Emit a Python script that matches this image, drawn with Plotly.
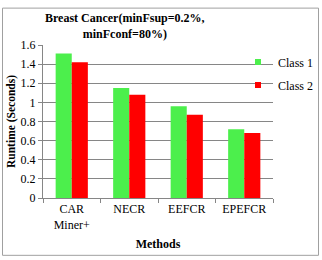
import plotly.graph_objects as go

methods = ["CAR<br>Miner+", "NECR", "EEFCR", "EPEFCR"]
class1 = [1.51, 1.15, 0.96, 0.72]
class2 = [1.42, 1.08, 0.87, 0.68]
series_names = ["Class 1", "Class 2"]
colors = ["#4CEF4C", "#FF0000"]
title_text = "Breast Cancer(minFsup=0.2%,<br>minFconf=80%)"

FONT = "Liberation Serif, Times New Roman, serif"
L, R, T, B = 43, 273, 44.5, 198
W, H = 322, 260
pw, ph = R - L, B - T

def px(x):
    return (x - L) / pw

def py(y):
    return (B - y) / ph

fig = go.Figure()
for vals, name, col, grp in [(class1, series_names[0], colors[0], "a"),
                             (class2, series_names[1], colors[1], "b")]:
    fig.add_trace(go.Bar(x=methods, y=vals, name=name,
                         marker=dict(color=col, line=dict(width=0)),
                         legendgroup=grp, showlegend=False))
    # legend proxy with a small square symbol
    fig.add_trace(go.Scatter(x=[None], y=[None], mode="markers", name=name,
                             marker=dict(symbol="square", size=6, color=col),
                             legendgroup=grp, showlegend=True,
                             hoverinfo="skip"))

fig.update_layout(
    width=W, height=H,
    margin=dict(l=L, r=W - R, t=T, b=H - B, pad=0, autoexpand=False),
    paper_bgcolor="white", plot_bgcolor="white",
    font=dict(family=FONT, size=12, color="black"),
    barmode="group", bargap=0.44, bargroupgap=0,
    showlegend=True,
    legend=dict(x=px(238), y=py(47), xanchor="left", yanchor="top",
                bgcolor="rgba(0,0,0,0)", tracegroupgap=4,
                font=dict(family=FONT, size=12)),
    xaxis=dict(showline=True, linecolor="#868686", linewidth=1,
               ticks="outside", tickson="boundaries", ticklen=4,
               tickcolor="#868686", showgrid=False, tickangle=0,
               automargin=False,
               tickfont=dict(family=FONT, size=12),
               title=dict(text="<b>Methods</b>", font=dict(family=FONT, size=12),
                          standoff=8)),
    yaxis=dict(range=[0, 1.6], dtick=0.2, showline=True, linecolor="#868686",
               linewidth=1, ticks="outside", ticklen=4, tickcolor="#868686",
               showgrid=True, gridcolor="#868686", gridwidth=1,
               automargin=False,
               zeroline=False, tickfont=dict(family=FONT, size=12),
               title=dict(text="<b>Runtime (Seconds)</b>",
                          font=dict(family=FONT, size=11.5), standoff=2)),
    annotations=[dict(text="<b>" + title_text + "</b>", xref="paper", yref="paper",
                      x=px(125), y=py(25), xanchor="center", yanchor="middle",
                      showarrow=False, font=dict(family=FONT, size=12))],
    shapes=[dict(type="rect", xref="paper", yref="paper",
                 x0=px(2.5), x1=px(318.5), y0=py(255.5), y1=py(7.5),
                 line=dict(color="#A0A0A0", width=1), layer="below")],
)

fig.write_html("out.html")
